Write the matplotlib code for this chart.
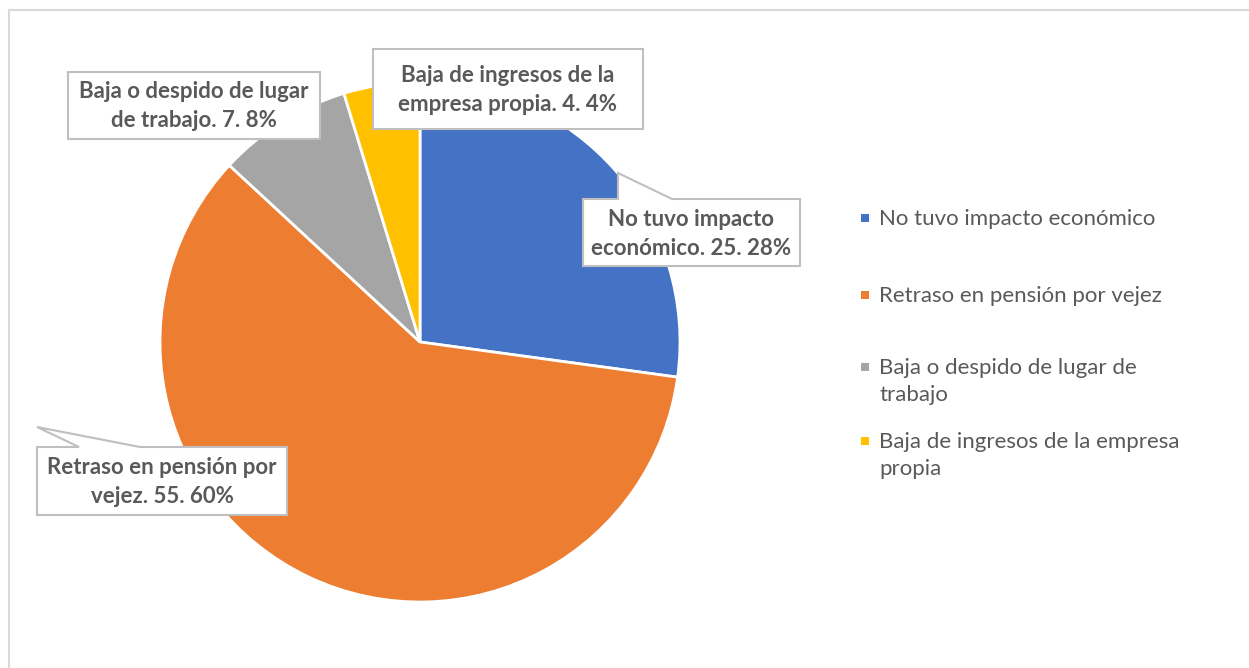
import matplotlib.pyplot as plt
from matplotlib.patches import Polygon, Rectangle
from matplotlib.lines import Line2D

categorias = ['No tuvo impacto económico', 'Retraso en pensión por vejez',
              'Baja o despido de lugar de trabajo', 'Baja de ingresos de la empresa propia']
valores = [25.28, 55.60, 7.8, 4.4]
etiquetas = ['No tuvo impacto\neconómico. 25. 28%', 'Retraso en pensión por\nvejez. 55. 60%',
             'Baja o despido de lugar\nde trabajo. 7. 8%', 'Baja de ingresos de la\nempresa propia. 4. 4%']
leyenda = ['No tuvo impacto económico', 'Retraso en pensión por vejez',
           'Baja o despido de lugar de\ntrabajo', 'Baja de ingresos de la empresa\npropia']
colores = ['#4472C4', '#ED7D31', '#A5A5A5', '#FFC000']

W, H = 1249, 668
fig = plt.figure(figsize=(W / 100, H / 100), dpi=100)
plt.rcParams['font.family'] = ['Lato', 'DejaVu Sans']
gris_txt = '#595959'


def fx(x):
    return x / W


def fy(y):
    return 1 - y / H


# marco del grafico
fig.add_artist(Line2D([fx(9), 1], [fy(10), fy(10)], color='#D9D9D9', lw=1.5))
fig.add_artist(Line2D([fx(9), fx(9)], [0, fy(10)], color='#D9D9D9', lw=1.5))

# pastel
ax = fig.add_axes([fx(160), fy(602), 520 / W, 520 / H])
ax.pie(valores, colors=colores, startangle=90, counterclock=False,
       wedgeprops=dict(edgecolor='white', linewidth=2))
ax.set_xlim(-1, 1)
ax.set_ylim(-1, 1)
ax.set_aspect('equal')
ax.axis('off')

# llamadas (cajas de etiquetas)
formas = [
    [(583, 199), (618, 199), (618, 173), (672, 199), (800, 199), (800, 266), (583, 266)],
    [(37, 447), (79, 447), (37, 427), (140, 447), (287, 447), (287, 515), (37, 515)],
    [(68, 72), (320, 72), (320, 139), (68, 139)],
    [(373, 49), (643, 49), (643, 129), (373, 129)],
]
centros = [(691, 234), (162, 482), (194, 106), (508, 90)]
for forma, centro, txt in zip(formas, centros, etiquetas):
    fig.add_artist(Polygon([(fx(x), fy(y)) for x, y in forma], closed=True,
                           facecolor='white', edgecolor='#BFBFBF', lw=1.5))
    fig.text(fx(centro[0]), fy(centro[1]), txt, ha='center', va='center',
             fontsize=16, fontweight='bold', color=gris_txt, linespacing=1.45)

# leyenda
ys = [218, 295, 367, 441]
for y, lab, c in zip(ys, leyenda, colores):
    fig.add_artist(Rectangle((fx(861), fy(y + 4)), 8 / W, 8 / H, facecolor=c, edgecolor='none'))
    fig.text(fx(879), fy(y - 9), lab, ha='left', va='top', fontsize=16, color=gris_txt,
             linespacing=1.45)

fig.savefig('out.png', dpi=100)
